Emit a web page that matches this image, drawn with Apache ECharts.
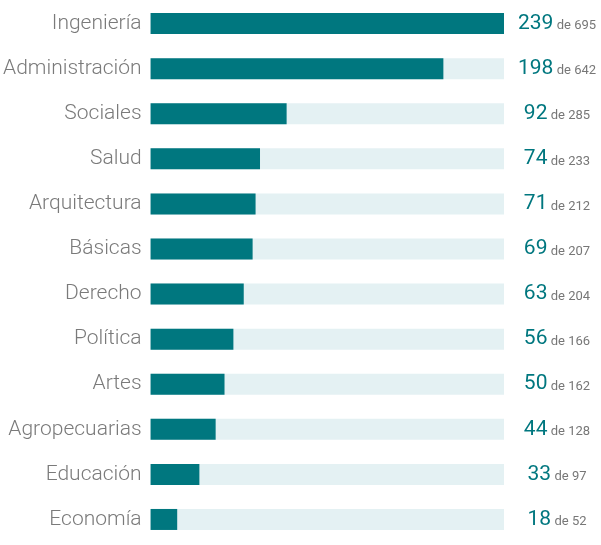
<!DOCTYPE html>
<html>
<head>
    <meta charset="utf-8" />
    <script src="https://cdn.jsdelivr.net/npm/echarts@6.0.0/dist/echarts.min.js"></script>
    <style>
        body { margin: 0px; overflow: hidden; }
        #main { width: 601px; height: 545px; }
    </style>
</head>
<body>
    <div id="main"></div>
<script type="text/javascript">
    var areas = ['Ingeniería', 'Administración', 'Sociales', 'Salud', 'Arquitectura', 'Básicas',
        'Derecho', 'Política', 'Artes', 'Agropecuarias', 'Educación', 'Economía'];
    var counts = [239, 198, 92, 74, 71, 69, 63, 56, 50, 44, 33, 18];
    var totals = [695, 642, 285, 233, 212, 207, 204, 166, 162, 128, 97, 52];

    var maxCount = Math.max.apply(null, counts);
    var track = areas.map(function () { return maxCount; });

    var chart = echarts.init(document.getElementById('main'));
    chart.setOption({
        animation: false,
        grid: { left: 150, right: 97, top: 1, bottom: 3 },
        xAxis: { type: 'value', max: maxCount, show: false },
        yAxis: [
            {
                type: 'category', data: areas, inverse: true,
                axisLine: { show: false }, axisTick: { show: false },
                axisLabel: { color: '#7a7a7a', fontSize: 21, fontFamily: 'Roboto', fontWeight: 300, margin: 9 }
            },
            {
                type: 'category', data: areas, inverse: true, position: 'right',
                axisLine: { show: false }, axisTick: { show: false },
                axisLabel: {
                    margin: 53, align: 'center',
                    formatter: function (v, i) {
                        return '{n|' + counts[i] + '} {d|de ' + totals[i] + '}';
                    },
                    rich: {
                        n: { color: '#00777f', fontSize: 21, fontFamily: 'Roboto', fontWeight: 400 },
                        d: { color: '#777', fontSize: 13, fontFamily: 'Roboto', padding: [5, 0, 0, 0] }
                    }
                }
            }
        ],
        series: [
            {
                type: 'bar', data: track, barWidth: 21, silent: true,
                itemStyle: { color: '#e4f1f3' }
            },
            {
                type: 'bar', data: counts, barWidth: 21, barGap: '-100%',
                itemStyle: { color: '#00777f' }
            }
        ]
    });
</script>
</body>
</html>
